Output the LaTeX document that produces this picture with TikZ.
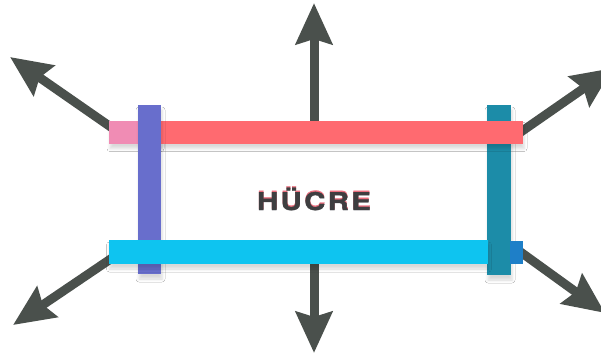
\documentclass[tikz,border=0pt]{standalone}
\usepackage{fontspec}
\newfontfamily\labelfont[LetterSpace=8,FakeBold=1.2]{TeX Gyre Heros}
\usetikzlibrary{arrows.meta,shadows.blur}
\definecolor{redbar}{RGB}{255,106,112}
\definecolor{pinkbar}{RGB}{240,140,180}
\definecolor{purplebar}{RGB}{104,110,204}
\definecolor{tealbar}{RGB}{28,140,168}
\definecolor{cyanbar}{RGB}{14,196,240}
\definecolor{darkbluebar}{RGB}{30,127,200}
\definecolor{arrowgray}{RGB}{74,80,76}
\definecolor{textgray}{RGB}{62,62,64}
\definecolor{textpink}{RGB}{235,110,125}
\tikzset{
  bar/.style={rectangle, inner sep=0pt, outer sep=0pt, draw=none},
  barshadow/.style={bar, blur shadow={shadow xshift=1pt, shadow yshift=-5pt, shadow blur radius=3pt, shadow opacity=15}},
  outarrow/.style={draw=arrowgray, line width=9pt,
    -{Stealth[length=41pt, width=36pt, inset=5pt, fill=arrowgray]}},
  celltext/.style={font=\labelfont\bfseries\fontsize{24.5}{28}\selectfont, inner sep=0pt, xscale=1.2, transform shape},
}
\begin{document}
\begin{tikzpicture}[x=1pt, y=-1pt]
\useasboundingbox (0,0) rectangle (601,359);
\clip (0,0) rectangle (601,359);
\fill[white] (0,0) rectangle (601,359);
% arrow ends
\coordinate (t0) at (314,130);  \coordinate (t1) at (314,3);
\coordinate (b0) at (314,255);  \coordinate (b1) at (314,353);
\coordinate (ul0) at (118,132); \coordinate (ul1) at (10,57);
\coordinate (ur0) at (515,136); \coordinate (ur1) at (613,68);
\coordinate (ll0) at (115,256); \coordinate (ll1) at (13,325);
\coordinate (lr0) at (515,248); \coordinate (lr1) at (605,313);
\draw[outarrow] (t0) -- (t1);
\draw[outarrow] (b0) -- (b1);
\draw[outarrow] (ul0) -- (ul1);
\draw[outarrow] (ur0) -- (ur1);
\draw[outarrow] (ll0) -- (ll1);
\draw[outarrow] (lr0) -- (lr1);
% bars
\node[barshadow, fill=tealbar, minimum width=24pt, minimum height=170pt] (rightbar) at (499,190) {};
\node[barshadow, fill=pinkbar, minimum width=51pt, minimum height=23pt] (pink) at (134.5,132) {};
\node[barshadow, fill=redbar, minimum width=364pt, minimum height=23pt] (topbar) at (341,132) {};
\node[barshadow, fill=purplebar, minimum width=23pt, minimum height=169pt] (leftbar) at (149.5,189.5) {};
\node[barshadow, fill=cyanbar, minimum width=379pt, minimum height=24pt] (botbar) at (298,252) {};
\node[bar, fill=darkbluebar, minimum width=13pt, minimum height=23pt] (piece) at (516.5,252.5) {};
% label
\node[celltext, text=textpink] (labelshadow) at (314,197.6) {HÜCRE};
\node[celltext, text=textgray] (label) at (314,199) {HÜCRE};
\end{tikzpicture}
\end{document}
